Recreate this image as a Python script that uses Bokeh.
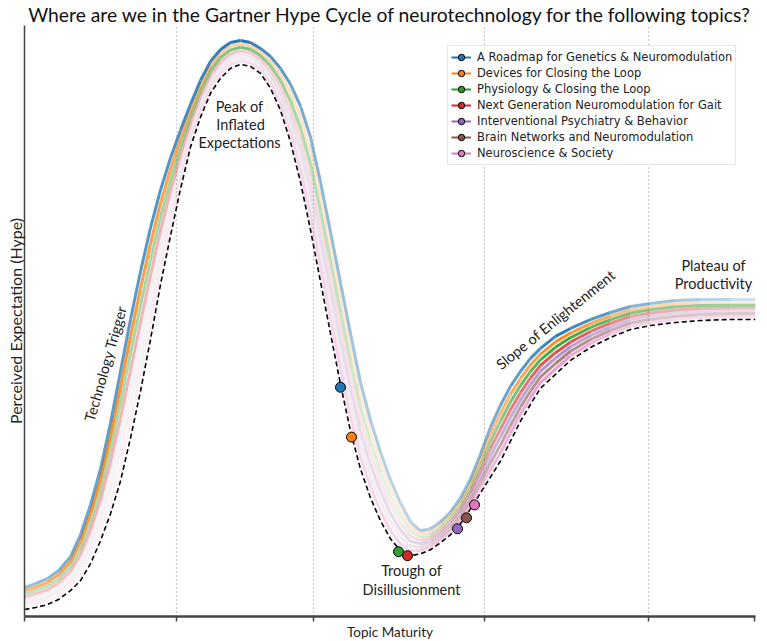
import numpy as np
from bokeh.plotting import figure
from bokeh.models import Range1d, FixedTicker, Legend, LegendItem, ColumnDataSource, Title
from bokeh.embed import file_html
from bokeh.resources import INLINE
from bokeh.core.properties import value

# ---------------- data ----------------
topics = [
    "A Roadmap for Genetics & Neuromodulation",
    "Devices for Closing the Loop",
    "Physiology & Closing the Loop",
    "Next Generation Neuromodulation for Gait",
    "Interventional Psychiatry & Behavior",
    "Brain Networks and Neuromodulation",
    "Neuroscience & Society",
]
colors = ["#1f77b4", "#ff7f0e", "#2ca02c", "#d62728", "#9467bd", "#8c564b", "#e377c2"]

# topic positions on the hype curve (maturity, expectation)
topic_x = [316, 327, 374, 383, 433, 442, 450]
topic_y = [230, 180, 65, 61, 88, 99, 112]

# hype curve: maturity samples
curve_x = [0, 11, 23, 34, 46, 56, 66, 76, 86, 96, 106, 116, 126, 136, 146, 156,
           166, 176, 186, 196, 206, 216, 226, 236, 246, 256, 266, 276, 286, 296,
           306, 316, 326, 336, 346, 356, 366, 376, 386, 396, 406, 416, 426, 436,
           446, 456, 466, 476, 486, 496, 506, 516, 531, 546, 566, 586, 606, 626,
           651, 676, 706, 731]
# lower (dashed) reference curve
base_y = [7, 9, 12, 17, 26, 36, 53, 76, 103, 136, 179, 226, 278, 333, 382, 429,
          471, 501, 525, 540, 550, 554, 552, 545, 530, 508, 476, 436, 388, 336,
          284, 233, 186, 148, 119, 96, 78, 66, 61, 63, 67, 74, 82, 93, 108, 124,
          140, 156, 176, 196, 213, 229, 243, 257, 270, 280, 288, 292, 295, 297,
          298, 298]
# upper edge of the coloured band
top_y = [29, 33, 38, 46, 60, 82, 112, 148, 194, 246, 298, 346, 390, 428, 460, 488,
         514, 538, 557, 569, 576, 578, 576, 570, 562, 550, 534, 512, 481, 436,
         386, 335, 284, 235, 197, 165, 137, 114, 95, 86, 88, 95, 105, 119, 138,
         163, 190, 212, 231, 246, 259, 269, 281, 289, 298, 305, 311, 314, 317,
         318, 318, 318]
# position of each topic's line inside the band (0 = dashed, 1 = top)
band_level = [7/7, 6/7, 5/7, 4/7, 3/7, 2/7, 1/7]

phase_ticks = [0, 152, 289, 460, 624, 730]
phase_lines = [152, 289, 460, 624]

# ---------------- style: opacity along each line ----------------
alpha_x = [0, 76, 152, 216, 289, 376, 460, 536, 624, 731]
alpha_prof = [
    [0.45, 0.70, 0.80, 1.00, 0.55, 0.30, 0.55, 0.95, 0.50, 0.20],
    [0.55, 0.90, 0.70, 0.35, 0.20, 0.12, 0.45, 0.95, 0.35, 0.10],
    [0.30, 0.40, 0.45, 0.65, 0.35, 0.10, 0.45, 0.95, 0.55, 0.45],
    [0.25, 0.35, 0.35, 0.25, 0.15, 0.10, 0.45, 0.85, 0.40, 0.30],
    [0.10, 0.10, 0.10, 0.15, 0.20, 0.25, 0.45, 0.75, 0.30, 0.20],
    [0.10, 0.08, 0.08, 0.10, 0.10, 0.10, 0.45, 0.75, 0.35, 0.30],
    [0.10, 0.10, 0.15, 0.25, 0.30, 0.30, 0.50, 0.75, 0.30, 0.25],
]

TXT = "Lato"

p = figure(width=767, height=641, output_backend="svg", toolbar_location=None,
           x_range=Range1d(0, 731), y_range=Range1d(0, 593),
           min_border_left=24, min_border_right=12, min_border_bottom=25, min_border_top=0)
p.outline_line_color = None
p.background_fill_color = "white"

p.title.text = "Where are we in the Gartner Hype Cycle of neurotechnology for the following topics?"
p.title.align = "center"
p.title.text_font = TXT
p.title.text_font_size = "19.3px"
p.title.text_font_style = "normal"
p.title.text_color = "#111111"
p.title.standoff = 0
p.title.offset = 6

# axes
p.xaxis.ticker = FixedTicker(ticks=phase_ticks)
p.xaxis.major_label_overrides = {t: "" for t in phase_ticks}
p.xaxis.major_label_text_font_size = "0px"
p.xaxis.major_label_standoff = 0
p.xaxis.major_tick_out = 5
p.xaxis.major_tick_in = 0
p.xaxis.major_tick_line_width = 1.5
p.xaxis.major_tick_line_color = "#444444"
p.xaxis.minor_tick_line_color = None
p.xaxis.axis_line_width = 2.5
p.xaxis.axis_line_color = "#444444"

p.yaxis.ticker = FixedTicker(ticks=[])
p.yaxis.major_label_text_font_size = "0px"
p.yaxis.major_label_standoff = 0
p.yaxis.major_tick_line_color = None
p.yaxis.minor_tick_line_color = None
p.yaxis.axis_line_width = 1.5
p.yaxis.axis_line_color = "#444444"

p.xgrid.ticker = FixedTicker(ticks=phase_lines)
p.xgrid.grid_line_color = "#999999"
p.xgrid.grid_line_dash = "1 3"
p.xgrid.grid_line_width = 1.2
p.ygrid.grid_line_color = None

# axis titles (shifted like the reference)
xt = Title(text="Topic Maturity", align="center", offset=22, standoff=0,
           text_font=TXT, text_font_size="13.5px", text_font_style="normal",
           text_color="#222222")
p.add_layout(xt, "below")
yt = Title(text="Perceived Expectation (Hype)", align="center", offset=15, standoff=0,
           text_font=TXT, text_font_size="16px", text_font_style="normal",
           text_color="#222222")
p.add_layout(yt, "left")

cx = np.array(curve_x, dtype=float)
by = np.array(base_y, dtype=float)
ty = np.array(top_y, dtype=float)
mid = (cx[:-1] + cx[1:]) / 2

# coloured band lines (pink first so blue lies on top)
for i in reversed(range(len(topics))):
    yy = by + band_level[i] * (ty - by)
    a = np.interp(mid, alpha_x, alpha_prof[i])
    src = ColumnDataSource(dict(x0=cx[:-1], y0=yy[:-1], x1=cx[1:], y1=yy[1:], a=a))
    p.segment("x0", "y0", "x1", "y1", source=src, line_color=colors[i],
              line_alpha="a", line_width=3, line_cap="butt")

# dashed reference curve
p.line(curve_x, base_y, line_color="black", line_width=1.6, line_dash="5 3")

items = []
for i, t in enumerate(topics):
    lr = p.line([topic_x[i]], [topic_y[i]], line_color=colors[i], line_width=2)
    sr = p.scatter([topic_x[i]], [topic_y[i]], size=10, fill_color=colors[i],
                   line_color="black", line_width=1)
    items.append(LegendItem(label=t, renderers=[lr, sr]))

# phase annotations
ann_text = ["Peak of", "Inflated", "Expectations", "Trough of", "Disillusionment",
            "Plateau of", "Productivity"]
ann_x = [215, 216, 215, 387, 387, 689, 689]
ann_y = [512, 494, 476, 46, 27, 352, 334]
p.text(ann_x, ann_y, text=ann_text, text_font=value(TXT), text_font_size="14.5px",
       text_align="center", text_baseline="middle", text_color="#222222")

rot_text = ["Technology Trigger", "Slope of Enlightenment"]
rot_x = [81, 531]
rot_y = [254, 298]
rot_angle = [74, 39]
p.text(rot_x, rot_y, text=rot_text, angle=rot_angle, angle_units="deg",
       text_font=value(TXT), text_font_size="14.5px", text_align="center",
       text_baseline="middle", text_color="#222222")

legend = Legend(items=items, location=(423, 451))
legend.label_text_font = "DejaVu Sans"
legend.label_text_font_size = "11.5px"
legend.label_text_color = "#222222"
legend.glyph_width = 20
legend.glyph_height = 16
legend.label_height = 16
legend.spacing = 0
legend.padding = 3
legend.margin = 0
legend.label_standoff = 6
legend.border_line_color = "#cccccc"
legend.border_line_width = 1
legend.background_fill_alpha = 1
p.add_layout(legend)

open("out.html", "w").write(file_html(p, INLINE))
